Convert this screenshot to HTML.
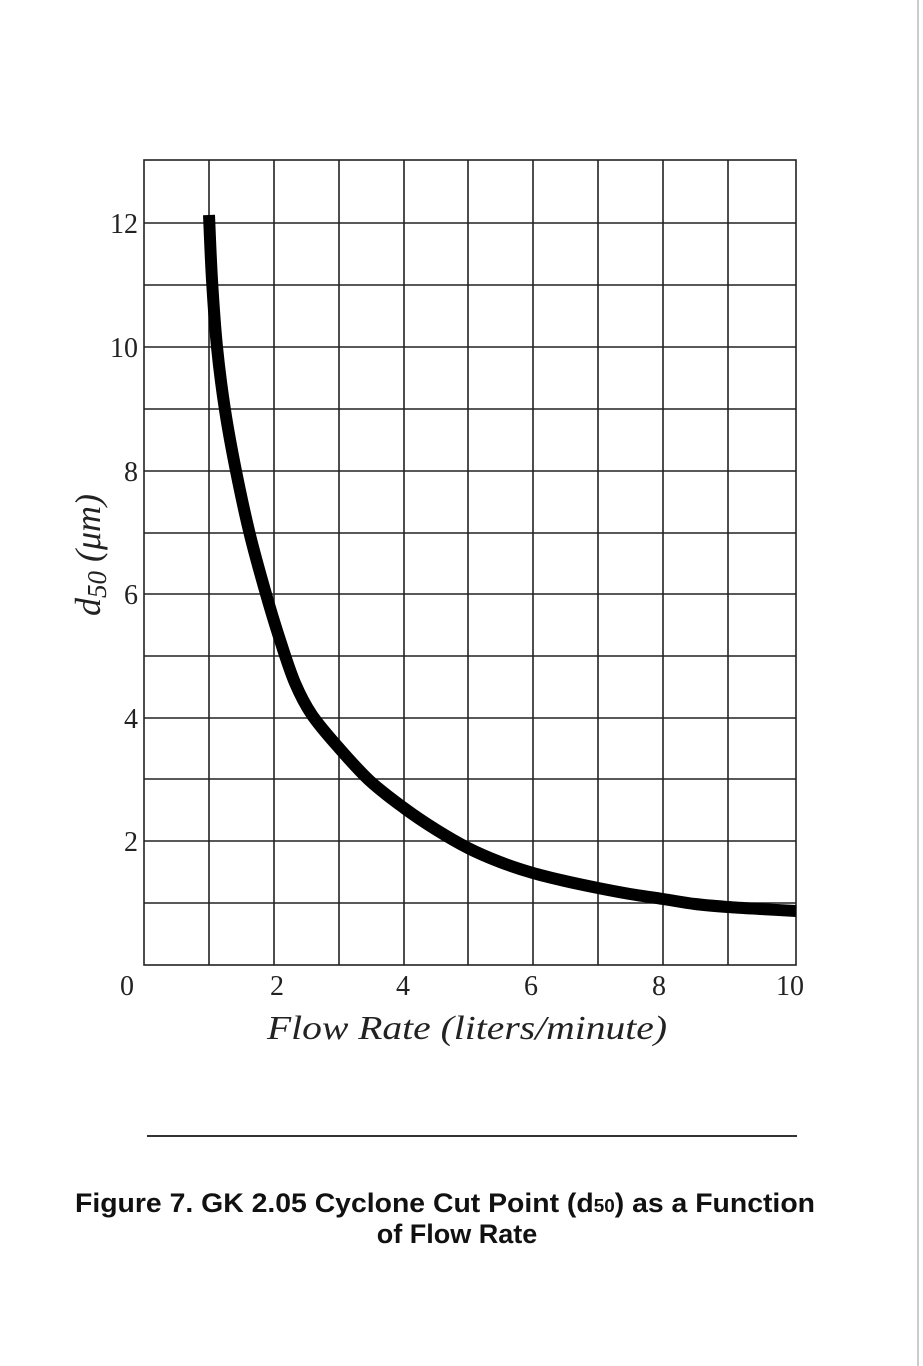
<!DOCTYPE html>
<html><head><meta charset="utf-8"><style>
body{margin:0;background:#fff;}
svg{display:block}
</style></head><body>
<svg width="923" height="1366" viewBox="0 0 923 1366" xmlns="http://www.w3.org/2000/svg">
<rect width="923" height="1366" fill="#fff"/>
<line x1="918" y1="0" x2="918" y2="1366" stroke="#ccc" stroke-width="2"/>
<g stroke="#222" stroke-width="1.6" fill="none">
<rect x="144" y="160" width="652" height="805"/>
<line x1="209" y1="160" x2="209" y2="965"/>
<line x1="274" y1="160" x2="274" y2="965"/>
<line x1="339" y1="160" x2="339" y2="965"/>
<line x1="404" y1="160" x2="404" y2="965"/>
<line x1="468" y1="160" x2="468" y2="965"/>
<line x1="533" y1="160" x2="533" y2="965"/>
<line x1="598" y1="160" x2="598" y2="965"/>
<line x1="663" y1="160" x2="663" y2="965"/>
<line x1="728" y1="160" x2="728" y2="965"/>
<line x1="144" y1="223" x2="796" y2="223"/>
<line x1="144" y1="285" x2="796" y2="285"/>
<line x1="144" y1="347" x2="796" y2="347"/>
<line x1="144" y1="409" x2="796" y2="409"/>
<line x1="144" y1="471" x2="796" y2="471"/>
<line x1="144" y1="533" x2="796" y2="533"/>
<line x1="144" y1="594" x2="796" y2="594"/>
<line x1="144" y1="656" x2="796" y2="656"/>
<line x1="144" y1="718" x2="796" y2="718"/>
<line x1="144" y1="779" x2="796" y2="779"/>
<line x1="144" y1="841" x2="796" y2="841"/>
<line x1="144" y1="903" x2="796" y2="903"/>
</g>
<path id="curve" d="" stroke="#000" stroke-width="12" fill="none" stroke-linejoin="round"/>
<g font-family="Liberation Serif, serif" font-size="28" fill="#222" text-anchor="end">
<text x="138" y="233">12</text>
<text x="138" y="357">10</text>
<text x="138" y="481">8</text>
<text x="138" y="604">6</text>
<text x="138" y="728">4</text>
<text x="138" y="851">2</text>
</g>
<g font-family="Liberation Serif, serif" font-size="28" fill="#222" text-anchor="middle">
<text x="127" y="995">0</text>
<text x="277" y="995">2</text>
<text x="403" y="995">4</text>
<text x="531" y="995">6</text>
<text x="659" y="995">8</text>
<text x="790" y="995">10</text>
</g>
<text x="267" y="1039" textLength="400" lengthAdjust="spacingAndGlyphs" font-family="Liberation Serif, serif" font-style="italic" font-size="34" fill="#222">Flow Rate (liters/minute)</text>
<text transform="translate(100,555) rotate(-90)" font-family="Liberation Serif, serif" font-style="italic" font-size="36" fill="#222" text-anchor="middle">d<tspan font-size="27" dy="6">50</tspan><tspan dy="-6"> (μm)</tspan></text>
<line x1="147" y1="1136" x2="797" y2="1136" stroke="#333" stroke-width="2"/>
<g font-family="Liberation Sans, sans-serif" font-weight="bold" font-size="27" fill="#111" text-anchor="middle">
<text x="445" y="1212" textLength="740" lengthAdjust="spacingAndGlyphs">Figure 7. GK 2.05 Cyclone Cut Point (d<tspan font-size="18">50</tspan>) as a Function</text>
<text x="457" y="1243">of Flow Rate</text>
</g>
</svg>
<script>
var p=[[209,215],[212,280],[217,347],[225,410],[236,471],[250,535],[266,594],[280,640],[295,683],[312,715],[339,748],[370,781],[404,808],[435,829],[468,848],[500,862],[533,873],[565,881],[598,888],[630,894],[663,899],[695,904],[728,907],[760,909],[796,911]];
var d="M"+p[0][0]+","+p[0][1];
for(var i=0;i<p.length-1;i++){var a=p[i>0?i-1:i],b=p[i],c=p[i+1],e=p[i+2<p.length?i+2:i+1];
d+=" C"+(b[0]+(c[0]-a[0])/6)+","+(b[1]+(c[1]-a[1])/6)+" "+(c[0]-(e[0]-b[0])/6)+","+(c[1]-(e[1]-b[1])/6)+" "+c[0]+","+c[1];}
document.getElementById("curve").setAttribute("d",d);
</script>
</body></html>
